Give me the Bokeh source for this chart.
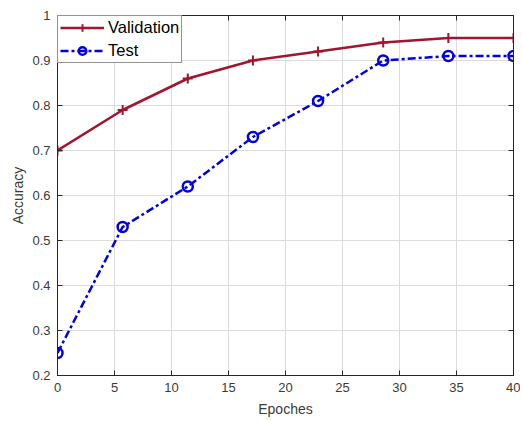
from bokeh.plotting import figure
from bokeh.models import LinearAxis, FixedTicker, CustomJSTickFormatter, Range1d, Legend, LegendItem
from bokeh.embed import file_html
from bokeh.resources import INLINE

epochs = [0, 5.714, 11.429, 17.143, 22.857, 28.571, 34.286, 40]
validation = [0.70, 0.79, 0.86, 0.90, 0.92, 0.94, 0.95, 0.95]
test = [0.25, 0.53, 0.62, 0.73, 0.81, 0.90, 0.91, 0.91]
x_ticks = [0, 5, 10, 15, 20, 25, 30, 35, 40]
y_ticks = [0.2, 0.3, 0.4, 0.5, 0.6, 0.7, 0.8, 0.9, 1.0]

FONT = "Liberation Sans"
TXT = "#262626"
LBL = "#3a3a3a"
RED = "#A2142F"
BLUE = "#0000E0"

p = figure(width=520, height=419, output_backend="svg", toolbar_location=None,
           x_range=Range1d(0, 40), y_range=Range1d(0.2, 1.0),
           min_border_left=57, min_border_right=7, min_border_top=15, min_border_bottom=44)
p.outline_line_color = TXT
p.outline_line_width = 1
p.background_fill_color = "white"

fmt = CustomJSTickFormatter(code="var s = tick.toFixed(1); return s.replace(/\\.0$/, '');")
blank = CustomJSTickFormatter(code="return '';")

for ax in (p.xaxis[0], p.yaxis[0]):
    ax.major_tick_in = 5
    ax.major_tick_out = 0
    ax.minor_tick_line_color = None
    ax.axis_line_color = TXT
    ax.major_tick_line_color = TXT
    ax.major_label_text_font = FONT
    ax.major_label_text_font_size = "13px"
    ax.major_label_text_color = LBL
    ax.axis_label_text_font = FONT
    ax.axis_label_text_font_size = "14px"
    ax.axis_label_text_font_style = "normal"
    ax.axis_label_text_color = LBL

p.xaxis[0].ticker = FixedTicker(ticks=x_ticks)
p.yaxis[0].ticker = FixedTicker(ticks=y_ticks)
p.yaxis[0].formatter = fmt
p.xaxis[0].axis_label = "Epoches"
p.yaxis[0].axis_label = "Accuracy"
p.xaxis[0].major_label_standoff = 7
p.yaxis[0].major_label_standoff = 7
p.xaxis[0].axis_label_standoff = 6
p.yaxis[0].axis_label_standoff = 3

for loc, ticks in (("right", y_ticks), ("above", x_ticks)):
    ax = LinearAxis(ticker=FixedTicker(ticks=ticks), formatter=blank)
    ax.major_tick_in = 5
    ax.major_tick_out = 0
    ax.minor_tick_line_color = None
    ax.axis_line_color = TXT
    ax.major_tick_line_color = TXT
    ax.major_label_standoff = 0
    ax.major_label_text_font_size = "1px"
    p.add_layout(ax, loc)

p.xgrid.ticker = FixedTicker(ticks=x_ticks)
p.ygrid.ticker = FixedTicker(ticks=y_ticks)
p.grid.grid_line_color = "#dcdcdc"
p.grid.grid_line_width = 1

vl = p.line(epochs, validation, line_color=RED, line_width=2.5)
vm = p.scatter(epochs, validation, marker="cross", size=10, line_color=RED, line_width=2)
tl = p.line(epochs, test, line_color=BLUE, line_width=2.5, line_dash="8 3 3 3")
tm = p.scatter(epochs, test, marker="circle", size=10, line_color=BLUE, line_width=2.5, fill_color=None)

legend = Legend(items=[LegendItem(label="Validation", renderers=[vl, vm]),
                       LegendItem(label="Test", renderers=[tl, tm])],
                location="top_left")
legend.margin = 0
legend.padding = 2
legend.spacing = 4
legend.glyph_width = 44
legend.glyph_height = 19
legend.label_text_font = FONT
legend.label_text_font_size = "16.5px"
legend.label_text_color = "black"
legend.label_standoff = 4
legend.border_line_color = TXT
legend.border_line_width = 1
legend.background_fill_alpha = 1.0
p.add_layout(legend)

open("out.html", "w").write(file_html(p, INLINE))
